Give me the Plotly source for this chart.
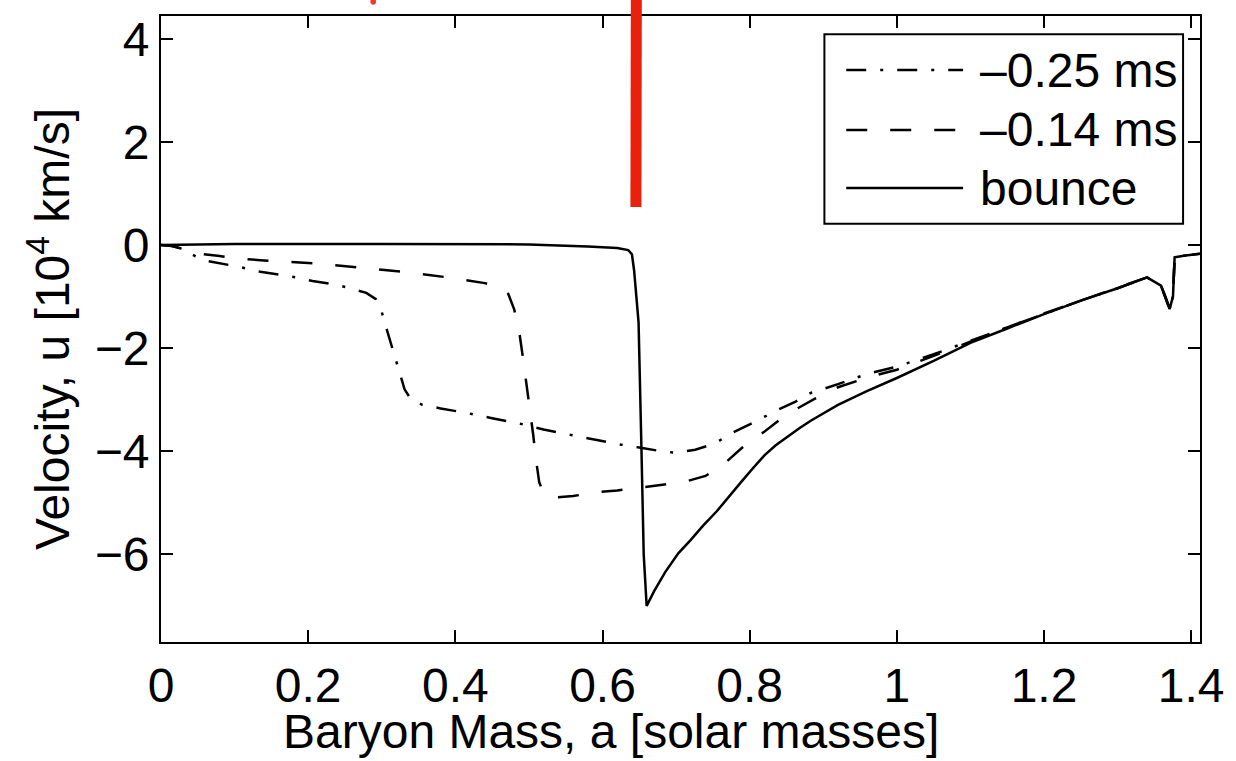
import plotly.graph_objects as go

# Baryon mass coordinate [solar masses] and velocity [10^4 km/s] profiles

# -0.25 ms before bounce (dash-dot)
mass_m025 = [0.0, 0.015, 0.03, 0.047, 0.063, 0.085, 0.108, 0.135, 0.158, 0.18, 0.206,
             0.229, 0.252, 0.279, 0.292, 0.300, 0.306, 0.311, 0.318, 0.324,
             0.331, 0.340, 0.355, 0.38, 0.416, 0.45, 0.489, 0.52, 0.561, 0.59,
             0.62, 0.65, 0.68, 0.70, 0.726, 0.753, 0.774, 0.80, 0.838, 0.861,
             0.883, 0.92, 0.96, 1.0, 1.05, 1.1, 1.15, 1.2, 1.25, 1.3, 1.34,
             1.359, 1.3655, 1.3707, 1.3753, 1.3775, 1.39, 1.412]
vel_m025 = [0.0, -0.02, -0.08, -0.22, -0.31, -0.37, -0.43, -0.52, -0.57, -0.62, -0.70,
            -0.75, -0.82, -0.93, -1.05, -1.3, -1.6, -1.85, -2.15, -2.45,
            -2.8, -3.0, -3.1, -3.17, -3.26, -3.36, -3.47, -3.58, -3.70, -3.78,
            -3.86, -3.93, -4.0, -4.03, -3.97, -3.85, -3.66, -3.48, -3.2, -3.05,
            -2.87, -2.7, -2.5, -2.36, -2.12, -1.86, -1.6, -1.33, -1.08, -0.84, -0.63,
            -0.79, -1.02, -1.24, -1.0, -0.24, -0.21, -0.17]

# -0.14 ms before bounce (dashed)
mass_m014 = [0.0, 0.015, 0.03, 0.05, 0.077, 0.104, 0.14, 0.21, 0.27, 0.33, 0.39, 0.44,
             0.462, 0.472, 0.480, 0.487, 0.492, 0.497, 0.502, 0.506, 0.510,
             0.514, 0.52, 0.53, 0.56, 0.59, 0.62, 0.65, 0.68, 0.71, 0.74,
             0.765, 0.79, 0.81, 0.84, 0.86, 0.89, 0.92, 0.96, 1.0, 1.05, 1.1,
             1.15, 1.2, 1.25, 1.3, 1.34, 1.359, 1.3655, 1.3707, 1.3753, 1.3775,
             1.39, 1.412]
vel_m014 = [0.0, -0.02, -0.08, -0.17, -0.21, -0.26, -0.3, -0.36, -0.44, -0.52, -0.63,
            -0.74, -0.82, -0.95, -1.25, -1.7, -2.2, -2.7, -3.2, -3.7, -4.2,
            -4.6, -4.82, -4.9, -4.87, -4.8, -4.76, -4.71, -4.66, -4.6, -4.48,
            -4.25, -3.93, -3.73, -3.40, -3.21, -2.97, -2.76, -2.57, -2.42, -2.15,
            -1.87, -1.6, -1.33, -1.08, -0.84, -0.63, -0.79, -1.02, -1.24, -1.0,
            -0.24, -0.21, -0.17]

# bounce (solid)
mass_b = [0.0, 0.1, 0.3, 0.5, 0.58, 0.62, 0.635, 0.640, 0.643, 0.646, 0.649,
          0.653, 0.656, 0.660, 0.670, 0.685, 0.703, 0.72, 0.737, 0.755, 0.771,
          0.79, 0.805, 0.82, 0.835, 0.85, 0.867, 0.883, 0.90, 0.92, 0.96, 1.0,
          1.05, 1.1, 1.15, 1.2, 1.25, 1.3, 1.34, 1.359, 1.3655, 1.3707, 1.3753,
          1.3775, 1.39, 1.412]
vel_b = [0.0, 0.02, 0.02, 0.01, -0.03, -0.06, -0.1, -0.18, -0.5, -1.0, -1.5,
         -4.0, -6.0, -7.0, -6.72, -6.35, -5.98, -5.72, -5.44, -5.17, -4.89,
         -4.57, -4.32, -4.08, -3.89, -3.73, -3.56, -3.41, -3.26, -3.1, -2.83,
         -2.58, -2.25, -1.9, -1.62, -1.34, -1.08, -0.84, -0.63, -0.79, -1.02,
         -1.24, -1.0, -0.24, -0.21, -0.17]

series_names = ["\u20130.25 ms", "\u20130.14 ms", "bounce"]
x_ticks = [0, 0.2, 0.4, 0.6, 0.8, 1.0, 1.2, 1.4]
x_tick_text = ["0", "0.2", "0.4", "0.6", "0.8", "1", "1.2", "1.4"]
y_ticks = [-6, -4, -2, 0, 2, 4]

FONT = "Liberation Sans, Arial, Helvetica, sans-serif"
FS = 48
DASHDOT = "20px,14px,3px,14px"
DASHED = "21px,23px"
LW = 2.5

fig = go.Figure()
fig.add_trace(go.Scatter(x=mass_m025, y=vel_m025, mode="lines", name=series_names[0],
                         line=dict(color="black", width=LW, dash=DASHDOT)))
fig.add_trace(go.Scatter(x=mass_m014, y=vel_m014, mode="lines", name=series_names[1],
                         line=dict(color="black", width=LW, dash=DASHED)))
fig.add_trace(go.Scatter(x=mass_b, y=vel_b, mode="lines", name=series_names[2],
                         line=dict(color="black", width=LW)))

axis_common = dict(
    showgrid=False, zeroline=False, showline=True, linecolor="black", linewidth=2,
    mirror="ticks", ticks="inside", ticklen=12, tickwidth=2, tickcolor="black",
    tickfont=dict(family=FONT, size=FS, color="black"),
)

fig.update_xaxes(range=[0, 1.412], tickvals=x_ticks, ticktext=x_tick_text, **axis_common)
fig.update_yaxes(range=[-7.7, 4.44], tickvals=y_ticks,
                 title=dict(text="Velocity, u [10<sup>4</sup> km/s]",
                            font=dict(family=FONT, size=FS, color="black"), standoff=10),
                 **axis_common)

# x-axis title (placed slightly left of the axis centre)
fig.add_annotation(xref="paper", yref="paper", x=0.4335, y=-0.143,
                   text="Baryon Mass, a [solar masses]", showarrow=False,
                   xanchor="center", yanchor="middle",
                   font=dict(family=FONT, size=FS, color="black"))

# legend box drawn in paper coordinates
shapes = [
    dict(type="rect", xref="paper", yref="paper", x0=0.6385, x1=0.9837, y0=0.668, y1=0.971,
         line=dict(color="black", width=2), fillcolor="white", layer="above"),
]
legend_rows = [(0.9137, DASHDOT), (0.8179, DASHED), (0.7252, "solid")]
for (yy, dash), label in zip(legend_rows, series_names):
    shapes.append(dict(type="line", xref="paper", yref="paper", x0=0.6595, x1=0.7720,
                       y0=yy, y1=yy, line=dict(color="black", width=LW, dash=dash),
                       layer="above"))
    fig.add_annotation(xref="paper", yref="paper", x=0.7862, y=yy, text=label,
                       showarrow=False, xanchor="left", yanchor="middle",
                       font=dict(family=FONT, size=FS, color="black"))

# red marker stroke
shapes.append(dict(type="line", xref="paper", yref="paper", x0=0.4575, x1=0.4571,
                   y0=1.03, y1=0.695, line=dict(color="#e8200c", width=11), layer="above"))
shapes.append(dict(type="circle", xref="paper", yref="paper", x0=0.2015, x1=0.2070,
                   y0=1.018, y1=1.028, line=dict(color="#ef3a2a", width=0),
                   fillcolor="#ef3a2a", layer="above"))

fig.update_layout(
    width=1236, height=761, showlegend=False,
    paper_bgcolor="white", plot_bgcolor="white",
    margin=dict(l=161, r=29, t=16, b=119),
    shapes=shapes,
    font=dict(family=FONT, size=FS, color="black"),
)

fig.write_html("out.html")
